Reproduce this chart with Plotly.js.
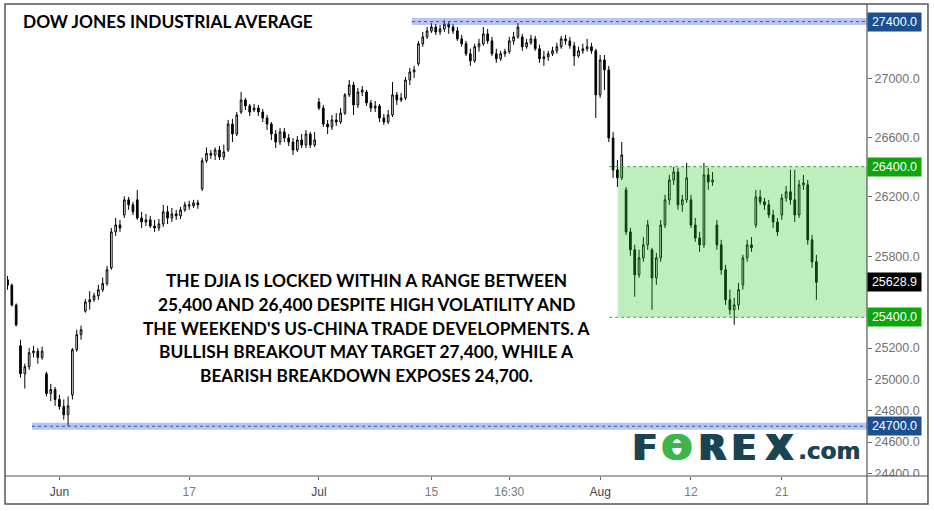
<!DOCTYPE html>
<html><head><meta charset="utf-8">
<script src="https://cdn.plot.ly/plotly-3.0.1.min.js"></script>
<style>html,body{margin:0;padding:0;background:#fff;overflow:hidden}#chart{width:934px;height:511px}</style>
</head><body><div id="chart"></div>
<script>
// ---------- data ----------
const tradingDays = [
 '2019-05-28','2019-05-29','2019-05-30','2019-05-31',
 '2019-06-03','2019-06-04','2019-06-05','2019-06-06','2019-06-07',
 '2019-06-10','2019-06-11','2019-06-12','2019-06-13','2019-06-14',
 '2019-06-17','2019-06-18','2019-06-19','2019-06-20','2019-06-21',
 '2019-06-24','2019-06-25','2019-06-26','2019-06-27','2019-06-28',
 '2019-07-01','2019-07-02','2019-07-03','2019-07-05',
 '2019-07-08','2019-07-09','2019-07-10','2019-07-11','2019-07-12',
 '2019-07-15','2019-07-16','2019-07-17','2019-07-18','2019-07-19',
 '2019-07-22','2019-07-23','2019-07-24','2019-07-25','2019-07-26',
 '2019-07-29','2019-07-30','2019-07-31','2019-08-01','2019-08-02',
 '2019-08-05','2019-08-06','2019-08-07','2019-08-08','2019-08-09',
 '2019-08-12','2019-08-13','2019-08-14','2019-08-15','2019-08-16',
 '2019-08-19','2019-08-20','2019-08-21','2019-08-22','2019-08-23'];
const halfDays = ['2019-07-03'];
const sessionSlots = ['09:30','11:40','13:50'];

const open = [
 25645,25610,25480, 25215,25035,25080, 25170,25180,25140, 25035,24908,24933,
 24870,24825,24773, 24900,25190,25287, 25440,25500,25514, 25540,25580,25620,
 25724,25962,26008, 26075,26176,26143, 26176,26055,26028, 26042,26001,25988,
 26015,26096,26055, 26082,26069,26109, 26143,26136,26156, 26250,26440,26490,
 26478,26513,26465, 26513,26690,26622, 26772,26855,26814, 26786,26800,26772,
 26731,26690,26622, 26567,26636,26595, 26567,26513,26581, 26547,26622,26547,
 26841,26800,26690, 26670,26718,26704, 26765,26890, 26958,26821,26910,
 26910,26835,26800, 26814,26731,26704, 26752,26890,26855, 26869,26993,27049,
 27105,27245,27293, 27335,27362,27328, 27348,27383,27362, 27335,27279,27245,
 27175,27126,27224, 27245,27314,27265, 27175,27140,27175, 27190,27265,27293,
 27293,27224,27252, 27279,27210,27140, 27154,27175,27196, 27224,27279,27265,
 27231,27160,27196, 27210,27224,27196, 26890,27132,27063, 26595,26378,26324,
 26243,25962,25843, 25678,25790,25876, 25843,25658,25790, 26008,26176,26310,
 26364,26143,26176, 26176,26008,25922, 25876,26344,26297, 26008,25876,25711,
 25514,25449,25481, 25612,25790,25876, 26008,26196,26163, 26143,26075,26028,
 26075,26189,26230, 26176,26075,26277, 26277,25909,25764];
const high = [
 25670,25620,25490, 25254,25100,25200, 25215,25200,25210, 25048,24970,24950,
 24900,24870,24890, 25200,25319,25345, 25520,25570,25560, 25612,25660,25737,
 25988,26055,26042, 26200,26196,26163, 26243,26096,26082, 26069,26042,26048,
 26143,26136,26122, 26109,26129,26163, 26170,26176,26176, 26460,26530,26513,
 26530,26540,26550, 26718,26725,26772, 26910,26869,26828, 26828,26821,26793,
 26752,26704,26649, 26663,26663,26622, 26595,26608,26622, 26649,26636,26636,
 26869,26821,26718, 26752,26765,26800, 26903,26993, 26979,26938,26951,
 26924,26855,26848, 26828,26759,26786, 26979,26910,26903, 27014,27077,27091,
 27265,27328,27362, 27390,27383,27376, 27410,27400,27383, 27362,27307,27265,
 27210,27245,27279, 27362,27348,27293, 27210,27196,27210, 27293,27328,27390,
 27314,27279,27307, 27300,27238,27196, 27196,27224,27252, 27300,27307,27293,
 27258,27224,27245, 27279,27252,27210, 27167,27167,27091, 26636,26445,26567,
 26263,25988,25876, 25843,25928,26042, 25856,25823,26042, 26210,26344,26398,
 26391,26210,26425, 26210,26055,25962, 26425,26391,26364, 26042,25909,25744,
 25580,25527,25625, 25810,25909,25928, 26243,26243,26189, 26176,26109,26055,
 26216,26270,26378, 26378,26310,26344, 26310,25942,25810];
const low = [
 25580,25470,25340, 25010,24940,25060, 25140,25100,25125, 24890,24860,24830,
 24805,24742,24700, 24870,25176,25254, 25430,25450,25500, 25514,25566,25605,
 25711,25935,25962, 26055,26109,26075, 26042,25988,26001, 25988,25962,25968,
 25995,26015,26028, 26042,26048,26096, 26109,26122,26116, 26236,26425,26452,
 26445,26445,26445, 26500,26567,26608, 26758,26786,26745, 26772,26745,26704,
 26649,26581,26526, 26547,26567,26540, 26479,26500,26526, 26526,26526,26533,
 26786,26670,26622, 26649,26677,26690, 26752,26876, 26752,26800,26883,
 26814,26772,26772, 26704,26684,26690, 26738,26821,26841, 26855,26958,27007,
 27091,27224,27279, 27321,27307,27307, 27328,27314,27314, 27265,27224,27160,
 27091,27112,27190, 27231,27245,27160, 27112,27126,27154, 27175,27238,27279,
 27196,27210,27238, 27196,27112,27091, 27126,27160,27175, 27210,27238,27210,
 27091,27147,27175, 27190,27175,26731, 26869,26924,26567, 26324,26263,26310,
 25942,25803,25534, 25658,25764,25843, 25449,25612,25764, 25988,26143,26277,
 26109,26096,26156, 25988,25896,25830, 25856,26243,26270, 25843,25678,25481,
 25416,25351,25449, 25580,25764,25830, 25988,26143,26109, 26055,25988,25935,
 26042,26163,26143, 26028,26055,26243, 25876,25724,25514];
const close = [
 25610,25480,25350, 25035,25080,25170, 25180,25140,25180, 24908,24933,24870,
 24825,24773,24830, 25190,25287,25319, 25500,25514,25540, 25580,25620,25711,
 25962,26008,25988, 26176,26143,26096, 26055,26028,26042, 26001,25988,26015,
 26096,26055,26082, 26069,26109,26143, 26136,26156,26143, 26440,26490,26478,
 26513,26465,26500, 26690,26622,26752, 26855,26814,26772, 26800,26772,26731,
 26690,26622,26567, 26636,26595,26567, 26513,26581,26547, 26622,26547,26581,
 26800,26690,26670, 26718,26704,26765, 26890,26958, 26821,26910,26924,
 26835,26800,26814, 26731,26704,26752, 26890,26855,26869, 26993,27049,27063,
 27245,27293,27335, 27362,27328,27348, 27383,27362,27335, 27279,27245,27175,
 27126,27224,27245, 27314,27265,27175, 27140,27175,27190, 27265,27293,27362,
 27224,27252,27279, 27210,27140,27154, 27175,27196,27224, 27279,27265,27231,
 27160,27196,27210, 27224,27196,26890, 27132,27063,26595, 26378,26324,26479,
 25962,25843,25678, 25790,25876,26008, 25658,25790,26008, 26176,26310,26364,
 26143,26176,26324, 26008,25922,25876, 26344,26297,26310, 25876,25711,25514,
 25449,25481,25580, 25790,25876,25856, 26196,26163,26143, 26075,26028,25962,
 26189,26230,26176, 26075,26277,26290, 25909,25764,25628.9];

const tickDays = ['2019-06-03','2019-06-17','2019-07-01','2019-07-15','2019-07-23','2019-08-01','2019-08-12','2019-08-21'];
const tickText = ['Jun','17','Jul','15','16:30','Aug','12','21'];
const priceTicks = [24400,24600,24800,25000,25200,25800,26200,26600,27000];
const rangeLevels = [25400, 26400];
const targetLevels = [27400, 24700];
const lastPrice = 25628.9;
const titleText = 'DOW JONES INDUSTRIAL AVERAGE';
const noteLines = [
 'THE DJIA IS LOCKED WITHIN A RANGE BETWEEN',
 '25,400 AND 26,400 DESPITE HIGH VOLATILITY AND',
 "THE WEEKEND'S US-CHINA TRADE DEVELOPMENTS. A",
 'BULLISH BREAKOUT MAY TARGET 27,400, WHILE A',
 'BEARISH BREAKDOWN EXPOSES 24,700.'];

// ---------- build ----------
const x = [];
const dayStart = {};
tradingDays.forEach(d => {
  const n = halfDays.includes(d) ? 2 : 3;
  dayStart[d] = d + ' ' + sessionSlots[0];
  for (let k = 0; k < n; k++) x.push(d + ' ' + sessionSlots[k]);
});

const trace = {
  type: 'candlestick', x, open, high, low, close,
  increasing: {line: {color: '#000', width: 1}, fillcolor: '#fff'},
  decreasing: {line: {color: '#000', width: 1}, fillcolor: '#000'},
  whiskerwidth: 0, hoverinfo: 'skip', showlegend: false
};

const xr = [-0.12, 198.7];
const BLUE_BAND = 'rgba(70,100,215,0.38)';
const shapes = [];
// range box + dotted borders
shapes.push({type:'rect', xref:'x', yref:'y', x0:141.1, x1:xr[1], y0:rangeLevels[0], y1:rangeLevels[1],
  fillcolor:'rgba(40,195,40,0.30)', line:{width:0}, layer:'above'});
rangeLevels.forEach(v => shapes.push({type:'line', xref:'x', yref:'y', x0:139.1, x1:xr[1], y0:v, y1:v,
  line:{color:'#22b022', width:1, dash:'dot'}, layer:'above'}));
// target bands
const bandStart = [93.5, 5.66];
targetLevels.forEach((v, i) => {
  shapes.push({type:'line', xref:'x', yref:'y', x0:bandStart[i], x1:xr[1], y0:v, y1:v,
    line:{color:BLUE_BAND, width:7}, layer:'above'});
  shapes.push({type:'line', xref:'x', yref:'y', x0:bandStart[i], x1:xr[1], y0:v, y1:v,
    line:{color:'#3050c8', width:1, dash:'dot'}, layer:'above'});
});
// cover for clipped bottom tick label
shapes.push({type:'rect', xref:'paper', yref:'paper', x0:1.001, x1:1.07, y0:-0.058, y1:-0.001,
  fillcolor:'#fff', line:{width:0}, layer:'above'});
// frame & axis lines
shapes.push({type:'rect', xref:'paper', yref:'paper', x0:-0.0023, x1:1.0709, y0:-0.0594, y1:1.0021,
  line:{color:'#555', width:1.5}, fillcolor:'rgba(0,0,0,0)', layer:'above'});
shapes.push({type:'line', xref:'paper', yref:'paper', x0:1, x1:1, y0:-0.0594, y1:1.0021,
  line:{color:'#555', width:1.2}, layer:'above'});
shapes.push({type:'line', xref:'paper', yref:'paper', x0:-0.0023, x1:1.0709, y0:0, y1:0,
  line:{color:'#555', width:1.2}, layer:'above'});

const annotations = [];
// price label boxes
const labelVals = [targetLevels[0], rangeLevels[1], lastPrice, rangeLevels[0], targetLevels[1]];
const labelColors = ['#1b4f8e', '#0aa60a', '#000000', '#0aa60a', '#1b4f8e'];
labelVals.forEach((v, i) => annotations.push({
  xref:'paper', yref:'y', x:1, y:Math.log10(v), xanchor:'left', yanchor:'middle',
  text:v.toFixed(1), showarrow:false, bgcolor:labelColors[i], borderpad:2, width:49, align:'center',
  font:{family:'Liberation Sans, Arial, sans-serif', size:12.5, color:'#fff'}
}));
// title
annotations.push({xref:'paper', yref:'paper', x:0.0163, y:0.964, xanchor:'left', yanchor:'middle',
  text:titleText, showarrow:false, font:{family:'Lato, sans-serif', size:17.3, color:'#000', weight:700}});
// note, one line per annotation
noteLines.forEach((line, i) => annotations.push({xref:'paper', yref:'paper', x:0.4186,
  y:(476 - (280.5 + i * 23.8)) / 471, xanchor:'center', yanchor:'middle',
  text:line, showarrow:false, font:{family:'Lato, sans-serif', size:17.3, color:'#000', weight:700}}));
// logo
const logoParts = [['F',645,'#1a4452'],['\u0398',677,'#3db54a'],['R',712,'#1a4452'],['E',744,'#1a4452'],['X',779,'#1a4452']];
logoParts.forEach(p => annotations.push({xref:'paper', yref:'paper', x:(p[1]-7)/860, y:(476-448)/471,
  xanchor:'center', yanchor:'middle', text:p[0], showarrow:false,
  font:{family:'DejaVu Sans, sans-serif', size:35, color:p[2], weight:800,
        shadow:'1.5px 0px 0px '+p[2]+', -1.5px 0px 0px '+p[2]}}));
annotations.push({xref:'paper', yref:'paper', x:(829-7)/860, y:(476-451)/471, xanchor:'center', yanchor:'middle',
  text:'.com', showarrow:false, font:{family:'DejaVu Sans, sans-serif', size:23, color:'#1a4452', weight:700,
  shadow:'0.6px 0px 0px #1a4452'}});

const tickFontColors = {Jun:'#444', Jul:'#444', Aug:'#444'};
const layout = {
  width:934, height:511, margin:{l:7, r:67, t:5, b:35},
  paper_bgcolor:'#fff', plot_bgcolor:'#fff', showlegend:false, boxgap:0.45,
  xaxis:{type:'category', categoryorder:'array', categoryarray:x, range:xr,
    rangeslider:{visible:false}, showgrid:false, zeroline:false, showline:false,
    tickmode:'array', tickvals:tickDays.map(d => dayStart[d]),
    ticktext:tickText.map(t => tickFontColors[t] ? '<span style="color:'+tickFontColors[t]+'">'+t+'</span>' : t),
    ticks:'outside', ticklen:3, tickcolor:'#666', ticklabelstandoff:2,
    tickfont:{family:'Liberation Sans, Arial, sans-serif', size:12, color:'#7a7a7a'}, fixedrange:true},
  yaxis:{type:'log', side:'right', range:[Math.log10(24387), Math.log10(27517)],
    showgrid:false, zeroline:false, showline:false,
    tickmode:'array', tickvals:priceTicks, ticktext:priceTicks.map(v => v.toFixed(1)),
    ticks:'outside', ticklen:4, tickcolor:'#666',
    tickfont:{family:'Liberation Sans, Arial, sans-serif', size:12.5, color:'#707070'}, fixedrange:true},
  shapes, annotations
};
Plotly.newPlot('chart', [trace], layout, {displayModeBar:false, staticPlot:true});
</script>
</body></html>
